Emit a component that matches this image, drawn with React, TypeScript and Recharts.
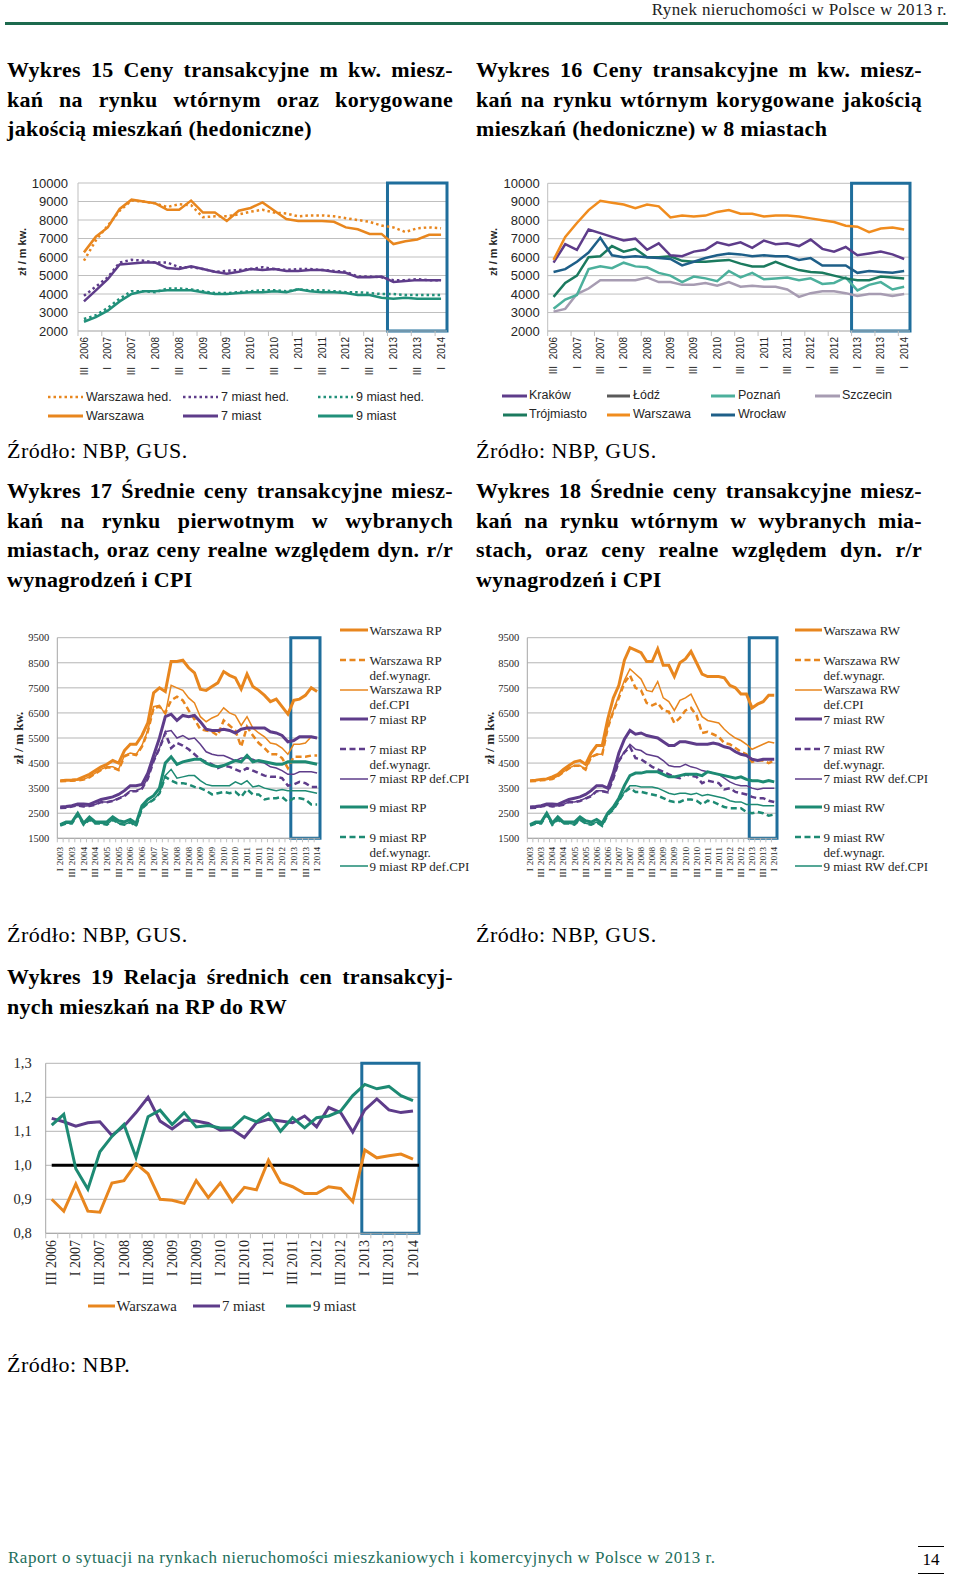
import React from 'react';
import { LineChart, Line, XAxis, YAxis, CartesianGrid, ReferenceArea, ReferenceLine } from 'recharts';

const SERIF = '"Liberation Serif", "Times New Roman", serif';
const SANS = '"Liberation Sans", Arial, sans-serif';

const ORANGE = '#E8861E';
const PURPLE = '#5E3C8A';
const TEAL = '#21907A';
const BOX_BLUE = '#1F6E9C';
const GRID = '#BFBFBF';
const TEXT = '#262626';

// ---------- categories ----------
const QUARTERS = [
  'I 2003', 'II 2003', 'III 2003', 'IV 2003',
  'I 2004', 'II 2004', 'III 2004', 'IV 2004',
  'I 2005', 'II 2005', 'III 2005', 'IV 2005',
  'I 2006', 'II 2006', 'III 2006', 'IV 2006',
  'I 2007', 'II 2007', 'III 2007', 'IV 2007',
  'I 2008', 'II 2008', 'III 2008', 'IV 2008',
  'I 2009', 'II 2009', 'III 2009', 'IV 2009',
  'I 2010', 'II 2010', 'III 2010', 'IV 2010',
  'I 2011', 'II 2011', 'III 2011', 'IV 2011',
  'I 2012', 'II 2012', 'III 2012', 'IV 2012',
  'I 2013', 'II 2013', 'III 2013', 'IV 2013',
  'I 2014',
];
const QUARTERS_SHORT = QUARTERS.slice(14); // III 2006 .. I 2014

// ---------- tick labels ----------
const Y_PRICE = [2000, 3000, 4000, 5000, 6000, 7000, 8000, 9000, 10000];
const Y_RPRW = [1500, 2500, 3500, 4500, 5500, 6500, 7500, 8500, 9500];
const Y_REL = [0.8, 0.9, 1.0, 1.1, 1.2, 1.3];

// ---------- Wykres 15 (III 2006 .. I 2014) ----------
const WAW_HED_15 = [5800, 6900, 7700, 8500, 9050, 9000, 8900, 8700, 8850, 8800, 8150, 8200, 8200, 8300, 8450, 8550, 8400, 8350, 8200, 8250, 8250, 8200, 8100, 8000, 7900, 7700, 7600, 7350, 7550, 7600, 7550];
const M7_HED_15 = [3900, 4400, 4900, 5700, 5850, 5800, 5700, 5700, 5450, 5450, 5350, 5200, 5250, 5300, 5350, 5450, 5350, 5300, 5350, 5350, 5300, 5250, 5200, 4950, 4950, 4900, 4750, 4750, 4800, 4750, 4750];
const M9_HED_15 = [2650, 2850, 3250, 3750, 4150, 4150, 4100, 4300, 4300, 4250, 4150, 4050, 4050, 4100, 4150, 4200, 4200, 4150, 4250, 4200, 4200, 4150, 4100, 4100, 4050, 4000, 4000, 3950, 3950, 3950, 3950];
const WAW_15 = [6250, 7100, 7600, 8600, 9100, 9000, 8900, 8550, 8550, 9050, 8400, 8400, 7950, 8500, 8650, 8950, 8500, 8050, 7950, 7950, 7950, 7900, 7600, 7500, 7250, 7250, 6700, 6850, 6950, 7200, 7200];
const M7_15 = [3600, 4200, 4800, 5600, 5650, 5700, 5700, 5400, 5350, 5500, 5350, 5200, 5100, 5200, 5350, 5300, 5350, 5250, 5250, 5300, 5300, 5200, 5150, 4900, 4900, 4950, 4650, 4700, 4750, 4750, 4750];
const M9_15 = [2500, 2750, 3100, 3600, 4000, 4150, 4150, 4200, 4200, 4200, 4100, 4000, 4000, 4050, 4100, 4100, 4150, 4100, 4250, 4150, 4100, 4100, 4050, 3950, 3950, 3800, 3750, 3800, 3750, 3750, 3750];

// ---------- Wykres 16 (III 2006 .. I 2014) ----------
const KRAKOW_16 = [5700, 6700, 6400, 7500, 7300, 7100, 6900, 7000, 6400, 6750, 6100, 6050, 6300, 6400, 6800, 6650, 6800, 6500, 6900, 6700, 6750, 6600, 6950, 6450, 6300, 6550, 6100, 6200, 6300, 6150, 5900];
// Łódź: no line is visible in the reference
const LODZ_16: (number | null)[] = [null, null, null, null, null, null, null, null, null, null, null, null, null, null, null, null, null, null, null, null, null, null, null, null, null, null, null, null, null, null, null];
const POZNAN_16 = [3200, 3700, 3950, 5350, 5500, 5400, 5700, 5500, 5450, 5150, 5000, 4650, 4950, 4850, 4700, 5250, 4900, 5150, 4800, 4850, 4900, 4750, 4850, 4550, 4600, 4900, 4200, 4500, 4650, 4250, 4400];
const SZCZECIN_16 = [3050, 3200, 4000, 4300, 4750, 4750, 4750, 4750, 4900, 4650, 4650, 4500, 4500, 4600, 4450, 4650, 4400, 4450, 4400, 4400, 4250, 3850, 4050, 4150, 4150, 4050, 3900, 4000, 4000, 3900, 4000];
const TROJMIASTO_16 = [3850, 4600, 5000, 6000, 6050, 6600, 6300, 6450, 6000, 6000, 6050, 5800, 5750, 5750, 5800, 5850, 5650, 5500, 5500, 5750, 5500, 5300, 5200, 5150, 5000, 4850, 4750, 4750, 4950, 4900, 4850];
const WARSZAWA_16 = [5850, 7100, 7850, 8550, 9050, 8950, 8850, 8650, 8850, 8750, 8150, 8250, 8200, 8250, 8450, 8550, 8350, 8350, 8200, 8250, 8250, 8200, 8100, 8000, 7900, 7700, 7650, 7350, 7550, 7600, 7500];
const WROCLAW_16 = [5200, 5350, 5750, 6250, 7050, 6100, 6000, 6050, 6000, 5950, 5900, 5550, 5750, 5950, 6100, 6200, 6150, 6050, 6100, 6050, 6050, 5850, 5950, 5550, 5550, 5550, 5150, 5250, 5200, 5150, 5250];

// ---------- Wykres 17 (I 2003 .. I 2014), rynek pierwotny ----------
const WAW_RP = [3800, 3820, 3830, 3850, 3950, 4050, 4200, 4350, 4450, 4600, 4500, 5000, 5250, 5250, 5600, 6100, 7300, 7500, 7350, 8550, 8550, 8600, 8300, 8100, 7450, 7400, 7550, 7700, 8150, 8000, 7900, 7450, 8050, 7550, 7400, 7200, 6950, 7050, 6750, 6450, 7000, 7050, 7200, 7500, 7350];
const WAW_RP_WYN = [3780, 3790, 3800, 3810, 3840, 3930, 4080, 4230, 4320, 4320, 4220, 4770, 4870, 4820, 5150, 5750, 6700, 6750, 6500, 7000, 7150, 7000, 6600, 6250, 5850, 5800, 5750, 5600, 6200, 6000, 5800, 5150, 5950, 5600, 5300, 5100, 4850, 4850, 4700, 4300, 4750, 4750, 4750, 4800, 4800];
const WAW_RP_CPI = [3780, 3800, 3800, 3820, 3850, 3950, 4100, 4250, 4350, 4350, 4250, 4800, 4900, 4850, 5200, 5800, 6750, 6800, 6450, 7600, 7500, 7400, 7100, 6900, 6350, 6150, 6300, 6400, 6700, 6500, 6400, 6000, 6350, 5900, 5700, 5550, 5300, 5250, 5100, 4850, 5250, 5250, 5300, 5550, 5500];
const M7_RP = [2750, 2770, 2800, 2870, 2870, 2850, 2950, 3050, 3100, 3150, 3250, 3400, 3600, 3600, 3650, 4100, 4800, 5500, 6350, 6450, 6200, 6400, 6350, 6400, 6150, 5850, 5800, 5800, 5850, 5800, 5700, 5850, 5900, 5900, 5900, 5900, 5750, 5700, 5600, 5350, 5400, 5550, 5550, 5550, 5500];
const M7_RP_WYN = [2710, 2720, 2770, 2810, 2770, 2790, 2840, 2940, 2940, 2990, 3080, 3180, 3380, 3380, 3480, 3880, 4580, 5080, 5700, 5100, 5300, 5200, 5050, 4850, 4650, 4550, 4450, 4300, 4400, 4350, 4250, 4150, 4300, 4200, 4100, 4000, 3950, 3950, 3900, 3600, 3650, 3750, 3700, 3550, 3550];
const M7_RP_CPI = [2720, 2730, 2780, 2820, 2780, 2800, 2850, 2950, 2950, 3000, 3100, 3200, 3400, 3400, 3500, 3900, 4600, 5100, 5750, 5800, 5500, 5600, 5450, 5500, 5250, 4950, 4850, 4800, 4800, 4700, 4600, 4700, 4700, 4650, 4550, 4500, 4350, 4300, 4200, 4050, 4050, 4150, 4150, 4150, 4100];
const M9_RP = [2050, 2150, 2150, 2500, 2100, 2350, 2150, 2150, 2150, 2350, 2200, 2150, 2250, 2100, 2800, 3050, 3200, 3500, 4500, 4750, 4450, 4550, 4600, 4650, 4650, 4500, 4400, 4350, 4400, 4500, 4600, 4550, 4800, 4550, 4600, 4550, 4500, 4450, 4450, 4550, 4550, 4550, 4550, 4500, 4450];
const M9_RP_WYN = [2010, 2090, 2090, 2440, 2040, 2240, 2090, 2090, 2040, 2240, 2090, 2040, 2140, 1990, 2690, 2890, 3040, 3290, 3950, 3800, 3700, 3700, 3650, 3550, 3500, 3400, 3250, 3300, 3350, 3300, 3350, 3150, 3450, 3250, 3250, 3050, 3100, 3100, 3150, 2950, 3100, 3100, 3050, 2850, 2850];
const M9_RP_CPI = [2020, 2100, 2100, 2450, 2050, 2250, 2100, 2100, 2050, 2250, 2100, 2050, 2150, 2000, 2700, 2900, 3050, 3300, 4000, 4250, 3900, 3950, 4000, 4000, 3800, 3650, 3600, 3600, 3600, 3600, 3750, 3650, 3800, 3550, 3600, 3500, 3450, 3400, 3450, 3400, 3400, 3400, 3400, 3350, 3300];

// ---------- Wykres 18 (I 2003 .. I 2014), rynek wtórny ----------
const WAW_RW = [3800, 3820, 3850, 3870, 3950, 4050, 4250, 4400, 4550, 4600, 4450, 4900, 5200, 5200, 6250, 7100, 7600, 8600, 9100, 9000, 8900, 8550, 8550, 9050, 8400, 8400, 7950, 8500, 8650, 8950, 8500, 8050, 7950, 7950, 7950, 7900, 7600, 7500, 7250, 7250, 6700, 6850, 6950, 7200, 7200];
const WAW_RW_WYN = [3780, 3790, 3810, 3830, 3860, 3970, 4140, 4290, 4390, 4390, 4240, 4740, 4840, 4840, 5900, 6550, 7100, 7700, 8000, 7500, 7400, 6900, 6800, 6900, 6600, 6550, 6100, 6300, 6600, 6700, 6400, 5700, 5750, 5650, 5550, 5300, 5250, 5100, 4950, 4850, 4550, 4600, 4600, 4500, 4600];
const WAW_RW_CPI = [3780, 3800, 3820, 3840, 3870, 3980, 4150, 4300, 4400, 4400, 4250, 4750, 4850, 4850, 5950, 6600, 7200, 7800, 8250, 8050, 7850, 7400, 7350, 7750, 7100, 6950, 6600, 7000, 7100, 7250, 6800, 6350, 6200, 6150, 6100, 5850, 5650, 5500, 5400, 5250, 5050, 5150, 5250, 5350, 5300];
const M7_RW = [2750, 2770, 2800, 2870, 2870, 2850, 2950, 3050, 3100, 3150, 3250, 3400, 3600, 3600, 3500, 4100, 4900, 5450, 5800, 5650, 5700, 5600, 5550, 5500, 5350, 5200, 5200, 5350, 5350, 5300, 5250, 5250, 5250, 5300, 5250, 5150, 5100, 4950, 4850, 4800, 4650, 4600, 4650, 4650, 4650];
const M7_RW_WYN = [2710, 2720, 2770, 2810, 2770, 2790, 2840, 2940, 2940, 2990, 3080, 3180, 3380, 3380, 3330, 3880, 4580, 4930, 5150, 4700, 4650, 4500, 4350, 4250, 4150, 4050, 3950, 3900, 4050, 4000, 3950, 3700, 3800, 3750, 3700, 3450, 3500, 3350, 3300, 3250, 3150, 3100, 3100, 3000, 2950];
const M7_RW_CPI = [2720, 2730, 2780, 2820, 2780, 2800, 2850, 2950, 2950, 3000, 3100, 3200, 3400, 3400, 3350, 3900, 4600, 4950, 5250, 5050, 5000, 4850, 4800, 4750, 4600, 4400, 4350, 4350, 4450, 4350, 4300, 4200, 4150, 4100, 4050, 3900, 3750, 3650, 3600, 3600, 3500, 3450, 3500, 3500, 3500];
const M9_RW = [2050, 2150, 2150, 2500, 2100, 2350, 2150, 2150, 2150, 2350, 2200, 2150, 2250, 2100, 2500, 2750, 3100, 3600, 4000, 4100, 4100, 4150, 4150, 4150, 4050, 3950, 3950, 4000, 4050, 4050, 4050, 4000, 4150, 4100, 4050, 4000, 3950, 3900, 3950, 3850, 3800, 3800, 3750, 3800, 3750];
const M9_RW_WYN = [2010, 2090, 2090, 2440, 2040, 2240, 2090, 2090, 2040, 2240, 2090, 2040, 2140, 1990, 2440, 2640, 2990, 3340, 3500, 3350, 3350, 3300, 3250, 3200, 3100, 3000, 2950, 2950, 3050, 3050, 3000, 2850, 3000, 2950, 2850, 2750, 2700, 2700, 2700, 2550, 2500, 2550, 2500, 2400, 2450];
const M9_RW_CPI = [2020, 2100, 2100, 2450, 2050, 2250, 2100, 2100, 2050, 2250, 2100, 2050, 2150, 2000, 2450, 2650, 3000, 3350, 3600, 3600, 3550, 3550, 3550, 3500, 3400, 3300, 3250, 3300, 3300, 3250, 3300, 3200, 3250, 3200, 3150, 3100, 3000, 2950, 2950, 2850, 2850, 2850, 2800, 2800, 2800];

// ---------- Wykres 19 (III 2006 .. I 2014), relacja RP / RW ----------
const WAW_REL = [0.900, 0.865, 0.945, 0.865, 0.862, 0.948, 0.955, 1.005, 0.975, 0.900, 0.897, 0.888, 0.955, 0.905, 0.948, 0.893, 0.935, 0.928, 1.015, 0.950, 0.937, 0.917, 0.917, 0.937, 0.932, 0.893, 1.045, 1.022, 1.028, 1.033, 1.018];
const M7_REL = [1.138, 1.128, 1.115, 1.125, 1.128, 1.088, 1.115, 1.155, 1.200, 1.130, 1.107, 1.133, 1.130, 1.123, 1.103, 1.105, 1.082, 1.125, 1.135, 1.130, 1.125, 1.145, 1.113, 1.170, 1.155, 1.098, 1.163, 1.195, 1.163, 1.155, 1.160];
const M9_REL = [1.118, 1.150, 0.990, 0.930, 1.040, 1.085, 1.120, 1.023, 1.143, 1.162, 1.120, 1.155, 1.113, 1.117, 1.110, 1.110, 1.143, 1.128, 1.152, 1.100, 1.140, 1.110, 1.140, 1.145, 1.160, 1.205, 1.238, 1.225, 1.232, 1.205, 1.190];

// ---------- tables built for the library ----------
const DATA_15 = QUARTERS_SHORT.map((q, i) => ({ i, q, wawHed: WAW_HED_15[i], m7Hed: M7_HED_15[i], m9Hed: M9_HED_15[i], waw: WAW_15[i], m7: M7_15[i], m9: M9_15[i] }));
const DATA_16 = QUARTERS_SHORT.map((q, i) => ({ i, q, krakow: KRAKOW_16[i], lodz: LODZ_16[i], poznan: POZNAN_16[i], szczecin: SZCZECIN_16[i], trojmiasto: TROJMIASTO_16[i], warszawa: WARSZAWA_16[i], wroclaw: WROCLAW_16[i] }));
const DATA_17 = QUARTERS.map((q, i) => ({ i, q, a: WAW_RP[i], b: WAW_RP_WYN[i], c: WAW_RP_CPI[i], d: M7_RP[i], e: M7_RP_WYN[i], f: M7_RP_CPI[i], g: M9_RP[i], h: M9_RP_WYN[i], k: M9_RP_CPI[i] }));
const DATA_18 = QUARTERS.map((q, i) => ({ i, q, a: WAW_RW[i], b: WAW_RW_WYN[i], c: WAW_RW_CPI[i], d: M7_RW[i], e: M7_RW_WYN[i], f: M7_RW_CPI[i], g: M9_RW[i], h: M9_RW_WYN[i], k: M9_RW_CPI[i] }));
const DATA_19 = QUARTERS_SHORT.map((q, i) => ({ i, q, waw: WAW_REL[i], m7: M7_REL[i], m9: M9_REL[i] }));

const EVEN_SHORT = QUARTERS_SHORT.map((_, i) => i).filter((i) => i % 2 === 0);
const ALL_SHORT = QUARTERS_SHORT.map((_, i) => i);
const ALL_LONG = QUARTERS.map((_, i) => i);

// ---------- custom quarter tick ----------
type TickOpts = { labels: string[]; band: number; split: boolean; fontFamily: string; fontSize: number; yearOff: number; romanOff: number; dx: number; tickLen: number };
function quarterTick(o: TickOpts) {
  return (props: any) => {
    const { x, y, payload } = props;
    const idx = Math.round(Number(payload.value));
    const label = o.labels[idx] ?? '';
    const bx = x - o.band / 2;
    const show = idx % 2 === 0;
    const parts = label.split(' ');
    const common = { fontFamily: o.fontFamily, fontSize: o.fontSize, fill: TEXT, textAnchor: 'end' as const };
    return (
      <g>
        {o.tickLen > 0 && <line x1={bx} x2={bx} y1={y} y2={y + o.tickLen} stroke={GRID} strokeWidth={1} />}
        {show && o.split && (
          <g>
            <text {...common} transform={`translate(${x + o.dx},${y + o.yearOff}) rotate(-90)`}>{parts[1]}</text>
            <text {...common} transform={`translate(${x + o.dx},${y + o.romanOff}) rotate(-90)`}>{parts[0]}</text>
          </g>
        )}
        {show && !o.split && (
          <text {...common} transform={`translate(${x + o.dx},${y + o.yearOff}) rotate(-90)`}>{label}</text>
        )}
      </g>
    );
  };
}

// ---------- html helpers ----------
function LegendItem({ x1, x2, tx, y, color, width, dash, lines, font, size, lh }: { x1: number; x2: number; tx: number; y: number; color: string; width: number; dash?: string; lines: string[]; font: string; size: number; lh: number }) {
  return (
    <>
      <svg style={{ position: 'absolute', left: x1, top: y - 5, overflow: 'visible' }} width={x2 - x1} height={10}>
        <line x1={0} x2={x2 - x1} y1={5} y2={5} stroke={color} strokeWidth={width} strokeDasharray={dash} />
      </svg>
      <div style={{ position: 'absolute', left: tx, top: y - lh / 2, fontFamily: font, fontSize: size, lineHeight: `${lh}px`, color: TEXT, whiteSpace: 'nowrap' }}>
        {lines.map((l, k) => <div key={k}>{l}</div>)}
      </div>
    </>
  );
}

function RotLabel({ cx, cy, text, font, size }: { cx: number; cy: number; text: string; font: string; size: number }) {
  return (
    <div style={{ position: 'absolute', left: cx, top: cy, transform: 'translate(-50%,-50%) rotate(-90deg)', fontFamily: font, fontSize: size, fontWeight: 700, color: TEXT, whiteSpace: 'nowrap', lineHeight: 1 }}>{text}</div>
  );
}

function Title({ left, top, lh, lines }: { left: number; top: number; lh: number; lines: [string, boolean][] }) {
  return (
    <div style={{ position: 'absolute', left, top, width: 446, fontFamily: SERIF, fontWeight: 700, fontSize: 22, letterSpacing: 0.3, lineHeight: `${lh}px`, color: '#000' }}>
      {lines.map(([t, j], k) => (
        <div key={k} style={{ textAlign: j ? 'justify' : 'left', textAlignLast: j ? 'justify' : 'left' } as React.CSSProperties}>{t}</div>
      ))}
    </div>
  );
}

function Source({ left, top, text }: { left: number; top: number; text: string }) {
  return <div style={{ position: 'absolute', left, top, fontFamily: SERIF, fontSize: 22, letterSpacing: 0.5, lineHeight: '30px', color: '#000', whiteSpace: 'nowrap' }}>{text}</div>;
}

const noDot = { dot: false as const, activeDot: false as const, isAnimationActive: false };

// ---------- charts ----------
function Chart15() {
  const band = 369 / 31;
  const tick = quarterTick({ labels: QUARTERS_SHORT, band, split: true, fontFamily: SANS, fontSize: 10, yearOff: 6, romanOff: 36, dx: 3.6, tickLen: 5 });
  return (
    <div style={{ position: 'absolute', left: 0, top: 170 }}>
      <LineChart width={460} height={215} data={DATA_15} margin={{ top: 13, right: 13, bottom: 0, left: 0 }}>
        <CartesianGrid vertical={false} stroke={GRID} />
        <XAxis dataKey="i" type="number" domain={[-0.5, 30.5]} ticks={EVEN_SHORT} interval={0} height={54} tickSize={0} tickMargin={0} tickLine={false} axisLine={{ stroke: GRID }} tick={tick} />
        <YAxis type="number" domain={[2000, 10000]} ticks={Y_PRICE} interval={0} width={78} tickSize={0} tickMargin={10} tickLine={false} axisLine={{ stroke: GRID }} tick={{ fontSize: 13, fill: TEXT, fontFamily: SANS }} />
        <Line dataKey="wawHed" stroke={ORANGE} strokeWidth={2.5} strokeDasharray="2.5 3" {...noDot} />
        <Line dataKey="m7Hed" stroke={PURPLE} strokeWidth={2.5} strokeDasharray="2.5 3" {...noDot} />
        <Line dataKey="m9Hed" stroke={TEAL} strokeWidth={2.5} strokeDasharray="2.5 3" {...noDot} />
        <Line dataKey="waw" stroke={ORANGE} strokeWidth={2.5} {...noDot} />
        <Line dataKey="m7" stroke={PURPLE} strokeWidth={2.5} {...noDot} />
        <Line dataKey="m9" stroke={TEAL} strokeWidth={2.5} {...noDot} />
        <ReferenceArea x1={25.5} x2={30.5} y1={2000} y2={10000} fill="none" fillOpacity={0} stroke={BOX_BLUE} strokeWidth={3} ifOverflow="visible" />
      </LineChart>
    </div>
  );
}

function Chart16() {
  const band = 362.3 / 31;
  const tick = quarterTick({ labels: QUARTERS_SHORT, band, split: true, fontFamily: SANS, fontSize: 10, yearOff: 6, romanOff: 35, dx: 3.6, tickLen: 5 });
  return (
    <div style={{ position: 'absolute', left: 470, top: 170 }}>
      <LineChart width={460} height={215} data={DATA_16} margin={{ top: 13.3, right: 20, bottom: 0, left: 0 }}>
        <CartesianGrid vertical={false} stroke={GRID} />
        <XAxis dataKey="i" type="number" domain={[-0.5, 30.5]} ticks={EVEN_SHORT} interval={0} height={54} tickSize={0} tickMargin={0} tickLine={false} axisLine={{ stroke: GRID }} tick={tick} />
        <YAxis type="number" domain={[2000, 10000]} ticks={Y_PRICE} interval={0} width={77.7} tickSize={0} tickMargin={8} tickLine={false} axisLine={{ stroke: GRID }} tick={{ fontSize: 13, fill: TEXT, fontFamily: SANS }} />
        <Line dataKey="szczecin" stroke="#A79CB2" strokeWidth={2.5} {...noDot} />
        <Line dataKey="lodz" stroke="#5A5A5A" strokeWidth={2.5} {...noDot} />
        <Line dataKey="poznan" stroke="#4CB09C" strokeWidth={2.5} {...noDot} />
        <Line dataKey="trojmiasto" stroke="#1B7A5E" strokeWidth={2.5} {...noDot} />
        <Line dataKey="wroclaw" stroke="#1E5F88" strokeWidth={2.5} {...noDot} />
        <Line dataKey="krakow" stroke={PURPLE} strokeWidth={2.5} {...noDot} />
        <Line dataKey="warszawa" stroke="#F08C1E" strokeWidth={2.5} {...noDot} />
        <ReferenceArea x1={25.5} x2={30.5} y1={2000} y2={10000} fill="none" fillOpacity={0} stroke={BOX_BLUE} strokeWidth={3} ifOverflow="visible" />
      </LineChart>
    </div>
  );
}

function ChartRPRW({ left, width, right, data }: { left: number; width: number; right: number; data: any[] }) {
  const plotW = width - right - 57.3;
  const band = plotW / 45;
  const tick = quarterTick({ labels: QUARTERS, band, split: true, fontFamily: SERIF, fontSize: 9.2, yearOff: 8.5, romanOff: 30, dx: 3.1, tickLen: 4 });
  return (
    <div style={{ position: 'absolute', left, top: 615 }}>
      <LineChart width={width} height={275} data={data} margin={{ top: 22.7, right, bottom: 0, left: 0 }}>
        <CartesianGrid vertical={false} stroke="#B5B5B5" />
        <XAxis dataKey="i" type="number" domain={[-0.5, 44.5]} ticks={ALL_LONG} interval={0} height={51.7} tickSize={0} tickMargin={0} tickLine={false} axisLine={{ stroke: '#A6A6A6' }} tick={tick} />
        <YAxis type="number" domain={[1500, 9500]} ticks={Y_RPRW} interval={0} width={57.3} tickSize={0} tickMargin={8} tickLine={false} axisLine={{ stroke: '#A6A6A6' }} tick={{ fontSize: 10.5, fill: TEXT, fontFamily: SERIF }} />
        <Line dataKey="a" stroke={ORANGE} strokeWidth={3} {...noDot} />
        <Line dataKey="b" stroke={ORANGE} strokeWidth={2.5} strokeDasharray="6 3.5" {...noDot} />
        <Line dataKey="c" stroke={ORANGE} strokeWidth={1.5} {...noDot} />
        <Line dataKey="d" stroke={PURPLE} strokeWidth={3} {...noDot} />
        <Line dataKey="e" stroke={PURPLE} strokeWidth={2.5} strokeDasharray="6 3.5" {...noDot} />
        <Line dataKey="f" stroke={PURPLE} strokeWidth={1.5} {...noDot} />
        <Line dataKey="g" stroke="#1D8A73" strokeWidth={3} {...noDot} />
        <Line dataKey="h" stroke="#1D8A73" strokeWidth={2.5} strokeDasharray="6 3.5" {...noDot} />
        <Line dataKey="k" stroke="#1D8A73" strokeWidth={1.5} {...noDot} />
        <ReferenceArea x1={39.5} x2={44.5} y1={1500} y2={9500} fill="none" fillOpacity={0} stroke={BOX_BLUE} strokeWidth={3} ifOverflow="visible" />
      </LineChart>
    </div>
  );
}

function Chart19() {
  const band = 373.3 / 31;
  const tick = quarterTick({ labels: QUARTERS_SHORT, band, split: false, fontFamily: SERIF, fontSize: 14, yearOff: 6.7, romanOff: 0, dx: 4.6, tickLen: 5 });
  return (
    <div style={{ position: 'absolute', left: 0, top: 1040 }}>
      <LineChart width={430} height={252} data={DATA_19} margin={{ top: 23.3, right: 11, bottom: 0, left: 0 }}>
        <CartesianGrid vertical={false} stroke="#B5B5B5" />
        <XAxis dataKey="i" type="number" domain={[-0.5, 30.5]} ticks={ALL_SHORT} interval={0} height={58.7} tickSize={0} tickMargin={0} tickLine={false} axisLine={{ stroke: '#A6A6A6' }} tick={tick} />
        <YAxis type="number" domain={[0.8, 1.3]} ticks={Y_REL} interval={0} width={45.7} tickSize={0} tickMargin={14} tickLine={false} axisLine={{ stroke: '#A6A6A6' }} tick={{ fontSize: 14.5, fill: TEXT, fontFamily: SERIF }} tickFormatter={(v: number) => v.toFixed(1).replace('.', ',')} />
        <ReferenceLine segment={[{ x: 0, y: 1 }, { x: 30.5, y: 1 }]} stroke="#000" strokeWidth={3} ifOverflow="visible" />
        <Line dataKey="waw" stroke={ORANGE} strokeWidth={3} {...noDot} />
        <Line dataKey="m7" stroke={PURPLE} strokeWidth={3} {...noDot} />
        <Line dataKey="m9" stroke="#1D8A73" strokeWidth={3} {...noDot} />
        <ReferenceArea x1={25.75} x2={30.5} y1={0.8} y2={1.3} fill="none" fillOpacity={0} stroke={BOX_BLUE} strokeWidth={3} ifOverflow="visible" />
      </LineChart>
    </div>
  );
}

export default function App() {
  const lg = { font: SANS, size: 12.5, lh: 15 };
  const ls = { font: SERIF, size: 13, lh: 15 };
  const T9 = '#1D8A73';
  return (
    <div style={{ position: 'absolute', left: 0, top: 0, width: 960, height: 1578, background: '#fff', overflow: 'hidden' }}>
      {/* header */}
      <div style={{ position: 'absolute', right: 13, top: 0, fontFamily: SERIF, fontSize: 17, letterSpacing: 0.37, lineHeight: '20px', color: '#222', whiteSpace: 'nowrap' }}>Rynek nieruchomości w Polsce w 2013 r.</div>
      <div style={{ position: 'absolute', left: 5, top: 21.5, width: 943, height: 3, background: '#1D6A4E' }} />

      <Title left={7} top={55} lh={29.5} lines={[["Wykres 15 Ceny transakcyjne m kw. miesz-", true], ["kań na rynku wtórnym oraz korygowane", true], ["jakością mieszkań (hedoniczne)", false]]} />
      <Title left={476} top={55} lh={29.5} lines={[["Wykres 16 Ceny transakcyjne m kw. miesz-", true], ["kań na rynku wtórnym korygowane jakością", true], ["mieszkań (hedoniczne) w 8 miastach", false]]} />

      <Chart15 />
      <RotLabel cx={21.7} cy={252} text="zł / m kw." font={SANS} size={11} />
      <LegendItem x1={48} x2={83} tx={86} y={397} color={ORANGE} width={2.5} dash="2.5 3" lines={['Warszawa hed.']} {...lg} />
      <LegendItem x1={183} x2={218} tx={221} y={397} color={PURPLE} width={2.5} dash="2.5 3" lines={['7 miast hed.']} {...lg} />
      <LegendItem x1={318} x2={353} tx={356} y={397} color={TEAL} width={2.5} dash="2.5 3" lines={['9 miast hed.']} {...lg} />
      <LegendItem x1={48} x2={83} tx={86} y={416} color={ORANGE} width={3} lines={['Warszawa']} {...lg} />
      <LegendItem x1={183} x2={218} tx={221} y={416} color={PURPLE} width={3} lines={['7 miast']} {...lg} />
      <LegendItem x1={318} x2={353} tx={356} y={416} color={TEAL} width={3} lines={['9 miast']} {...lg} />

      <Chart16 />
      <RotLabel cx={493.3} cy={252} text="zł / m kw." font={SANS} size={11} />
      <LegendItem x1={502} x2={527} tx={529} y={395.5} color={PURPLE} width={3} lines={['Kraków']} {...lg} />
      <LegendItem x1={607} x2={630} tx={633} y={395.5} color="#5A5A5A" width={3} lines={['Łódź']} {...lg} />
      <LegendItem x1={711} x2={735} tx={738} y={395.5} color="#4CB09C" width={3} lines={['Poznań']} {...lg} />
      <LegendItem x1={815} x2={840} tx={842} y={395.5} color="#A79CB2" width={3} lines={['Szczecin']} {...lg} />
      <LegendItem x1={503} x2={527} tx={529} y={414.5} color="#1B7A5E" width={3} lines={['Trójmiasto']} {...lg} />
      <LegendItem x1={607} x2={630} tx={633} y={414.5} color="#F08C1E" width={3} lines={['Warszawa']} {...lg} />
      <LegendItem x1={711} x2={735} tx={738} y={414.5} color="#1E5F88" width={3} lines={['Wrocław']} {...lg} />

      <Source left={7} top={436} text="Źródło: NBP, GUS." />
      <Source left={476} top={436} text="Źródło: NBP, GUS." />

      <Title left={7} top={476} lh={29.7} lines={[["Wykres 17 Średnie ceny transakcyjne miesz-", true], ["kań na rynku pierwotnym w wybranych", true], ["miastach, oraz ceny realne względem dyn. r/r", true], ["wynagrodzeń i CPI", false]]} />
      <Title left={476} top={476} lh={29.7} lines={[["Wykres 18 Średnie ceny transakcyjne miesz-", true], ["kań na rynku wtórnym w wybranych mia-", true], ["stach, oraz ceny realne względem dyn. r/r", true], ["wynagrodzeń i CPI", false]]} />

      <ChartRPRW left={0} width={330} right={10} data={DATA_17} />
      <RotLabel cx={17.5} cy={738} text="zł / m kw." font={SERIF} size={13} />
      <LegendItem x1={340} x2={368} tx={369.5} y={630} color={ORANGE} width={3} lines={['Warszawa RP']} {...ls} />
      <LegendItem x1={340} x2={368} tx={369.5} y={660} color={ORANGE} width={2.5} dash="6 3.5" lines={['Warszawa RP', 'def.wynagr.']} {...ls} />
      <LegendItem x1={340} x2={368} tx={369.5} y={689.5} color={ORANGE} width={1.5} lines={['Warszawa RP', 'def.CPI']} {...ls} />
      <LegendItem x1={340} x2={368} tx={369.5} y={719} color={PURPLE} width={3} lines={['7 miast RP']} {...ls} />
      <LegendItem x1={340} x2={368} tx={369.5} y={749} color={PURPLE} width={2.5} dash="6 3.5" lines={['7 miast RP', 'def.wynagr.']} {...ls} />
      <LegendItem x1={340} x2={368} tx={369.5} y={778.5} color={PURPLE} width={1.5} lines={['7 miast RP def.CPI']} {...ls} />
      <LegendItem x1={340} x2={368} tx={369.5} y={807} color={T9} width={3} lines={['9 miast RP']} {...ls} />
      <LegendItem x1={340} x2={368} tx={369.5} y={837} color={T9} width={2.5} dash="6 3.5" lines={['9 miast RP', 'def.wynagr.']} {...ls} />
      <LegendItem x1={340} x2={368} tx={369.5} y={866} color={T9} width={1.5} lines={['9 miast RP def.CPI']} {...ls} />

      <ChartRPRW left={470} width={320} right={13} data={DATA_18} />
      <RotLabel cx={489} cy={738} text="zł / m kw." font={SERIF} size={13} />
      <LegendItem x1={795} x2={822} tx={823.5} y={630} color={ORANGE} width={3} lines={['Warszawa RW']} {...ls} />
      <LegendItem x1={795} x2={822} tx={823.5} y={660} color={ORANGE} width={2.5} dash="6 3.5" lines={['Warszawa RW', 'def.wynagr.']} {...ls} />
      <LegendItem x1={795} x2={822} tx={823.5} y={689.5} color={ORANGE} width={1.5} lines={['Warszawa RW', 'def.CPI']} {...ls} />
      <LegendItem x1={795} x2={822} tx={823.5} y={719} color={PURPLE} width={3} lines={['7 miast RW']} {...ls} />
      <LegendItem x1={795} x2={822} tx={823.5} y={749} color={PURPLE} width={2.5} dash="6 3.5" lines={['7 miast RW', 'def.wynagr.']} {...ls} />
      <LegendItem x1={795} x2={822} tx={823.5} y={778.5} color={PURPLE} width={1.5} lines={['7 miast RW def.CPI']} {...ls} />
      <LegendItem x1={795} x2={822} tx={823.5} y={807} color={T9} width={3} lines={['9 miast RW']} {...ls} />
      <LegendItem x1={795} x2={822} tx={823.5} y={837} color={T9} width={2.5} dash="6 3.5" lines={['9 miast RW', 'def.wynagr.']} {...ls} />
      <LegendItem x1={795} x2={822} tx={823.5} y={866} color={T9} width={1.5} lines={['9 miast RW def.CPI']} {...ls} />

      <Source left={7} top={920} text="Źródło: NBP, GUS." />
      <Source left={476} top={920} text="Źródło: NBP, GUS." />

      <Title left={7} top={962} lh={29.5} lines={[["Wykres 19 Relacja średnich cen transakcyj-", true], ["nych mieszkań na RP do RW", false]]} />

      <Chart19 />
      <LegendItem x1={88} x2={115} tx={116.5} y={1306} color={ORANGE} width={3} lines={['Warszawa']} font={SERIF} size={14.8} lh={17} />
      <LegendItem x1={193} x2={220} tx={222} y={1306} color={PURPLE} width={3} lines={['7 miast']} font={SERIF} size={14.8} lh={17} />
      <LegendItem x1={286} x2={311} tx={313} y={1306} color={T9} width={3} lines={['9 miast']} font={SERIF} size={14.8} lh={17} />

      <Source left={7} top={1350} text="Źródło: NBP." />

      {/* footer */}
      <div style={{ position: 'absolute', left: 8, top: 1548, fontFamily: SERIF, fontSize: 17, letterSpacing: 0.5, lineHeight: '20px', color: '#1E6F5C', whiteSpace: 'nowrap' }}>Raport o sytuacji na rynkach nieruchomości mieszkaniowych i komercyjnych w Polsce w 2013 r.</div>
      <div style={{ position: 'absolute', left: 918, top: 1545.5, width: 26, height: 1.5, background: '#000' }} />
      <div style={{ position: 'absolute', left: 918, top: 1550, width: 26, textAlign: 'center', fontFamily: SERIF, fontSize: 17, lineHeight: '20px', color: '#000' }}>14</div>
      <div style={{ position: 'absolute', left: 918, top: 1572.5, width: 26, height: 1.5, background: '#000' }} />
    </div>
  );
}
